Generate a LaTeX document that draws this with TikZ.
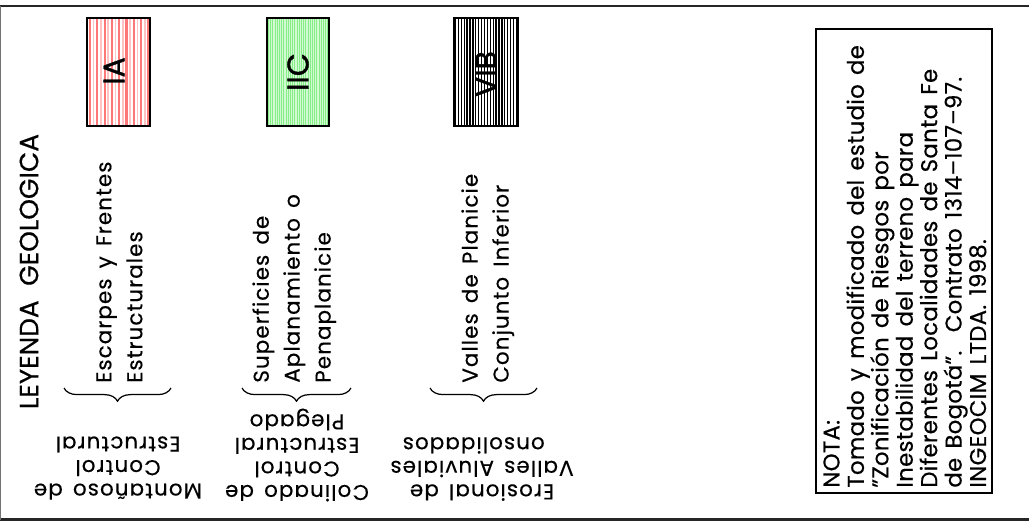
\documentclass[tikz,border=0pt]{standalone}
\usepackage{fontspec}
\setmainfont{Poppins}[FakeBold=0.4]
\newfontfamily\legfont{Poppins}[LetterSpace=5.0,WordSpace=1.5,FakeBold=0.4]
\newfontfamily\notefont{Poppins}[LetterSpace=1.2,WordSpace=1.45,FakeBold=0.4]
\newfontfamily\unitfont{Poppins}[FakeBold=1.2]
\usetikzlibrary{decorations.pathreplacing}

\definecolor{iared}{RGB}{255,120,120}
\definecolor{iapale}{RGB}{255,195,195}
\definecolor{iicgreen}{RGB}{135,238,135}
\definecolor{iicpale}{RGB}{210,250,210}

\begin{document}
\begin{tikzpicture}[x=0.02cm,y=-0.02cm,
  framerule/.style={line width=1.3pt, black!85},
  unitbox/.style={draw=black, line width=1.1pt},
  unitlabel/.style={rotate=90, inner sep=0pt, font=\unitfont\fontsize{17}{17}\selectfont},
  legtext/.style={rotate=90, align=left, anchor=north west, inner sep=0pt,
    font=\legfont\fontsize{12.2}{17.6}\selectfont},
  lowtext/.style={rotate=180, align=center, inner sep=0pt,
    font=\legfont\fontsize{12.2}{13.4}\selectfont},
  grouping/.style={decorate, decoration={brace, amplitude=7.5pt, mirror}, line width=0.7pt},
  notetext/.style={rotate=90, align=left, anchor=north west, inner sep=0pt,
    font=\notefont\fontsize{13}{13.9}\selectfont},
]
\useasboundingbox (0,0) rectangle (1029,525);

% sheet frame
\draw[framerule] (0,6) -- (1029,6);
\draw[framerule] (0,519.5) -- (1029,519.5);
\draw[line width=0.8pt, black!55] (0.7,6) -- (0.7,519.5);

% title
\node[rotate=90, inner sep=0pt, font=\fontsize{15}{15}\selectfont] (title) at (29,271.5)
  {LEYENDA\hspace{0.55em}GEOLOGICA};

% unit IA: red hatching
\foreach \i in {0,...,8} \draw[iared, line width=1.2pt] ({90+7.3*\i},18) -- ({90+7.3*\i},126);
\foreach \i in {0,...,7} \draw[iapale, line width=0.9pt] ({93.65+7.3*\i},18) -- ({93.65+7.3*\i},126);
\draw[unitbox] (87,18) rectangle (150,126);
\node[unitlabel] (ia) at (114,71) {IA};

% unit IIC: green hatching
\fill[iicpale] (267,18) rectangle (329,126);
\foreach \i in {0,...,27} \draw[iicgreen, line width=0.65pt] ({268.5+2.2*\i},18) -- ({268.5+2.2*\i},126);
\draw[unitbox] (267,18) rectangle (329,126);
\node[unitlabel] (iic) at (298,72) {IIC};

% unit VIB: black hatching
\foreach \i in {0,...,21} \draw[black, line width=0.7pt] ({455.5+2.9*\i},18) -- ({455.5+2.9*\i},126);
\draw[unitbox] (454,18) rectangle (518,126);
\node[unitlabel] (vib) at (486,74) {VIB};

% descriptions of the units
\node[legtext] (ia-desc) at (96,383) {Escarpes y Frentes\\Estructurales};
\node[legtext] (iic-desc) at (252,383) {Superficies de\\Aplanamiento o\\Penaplanicie};
\node[legtext] (vib-desc) at (461,383) {Valles de Planicie\\Conjunto Inferior};

% braces grouping each description
\coordinate (ia-l) at (64,388);  \coordinate (ia-r) at (171,388);
\coordinate (iic-l) at (242,388); \coordinate (iic-r) at (351,388);
\coordinate (vib-l) at (430,388); \coordinate (vib-r) at (537,388);
\draw[grouping] (ia-l) -- (ia-r);
\draw[grouping] (iic-l) -- (iic-r);
\draw[grouping] (vib-l) -- (vib-r);

% landform groups, printed upside down
\node[lowtext] (ia-group) at (118,468) {Montañoso de\\Control\\Estructural};
\node[lowtext] (iic-group) at (297,455) {Colinado de\\Control\\Estructural\\Plegado};
\node[lowtext] (vib-group) at (482,469) {Erosional de\\Valles Aluviales\\\phantom{C}onsolidados};

% note
\draw[line width=0.9pt] (816,29) rectangle (992,493);
\node[notetext] (note) at (823,488) {NOTA:\\
Tomado y modificado del estudio de\\
”Zonificación de Riesgos por\\
Inestabilidad del terreno para\\
Diferentes Localidades de Santa Fe\\
de Bogotá”.\ \ Contrato 1314–107–97.\\
INGEOCIM LTDA. 1998.};
\end{tikzpicture}
\end{document}
